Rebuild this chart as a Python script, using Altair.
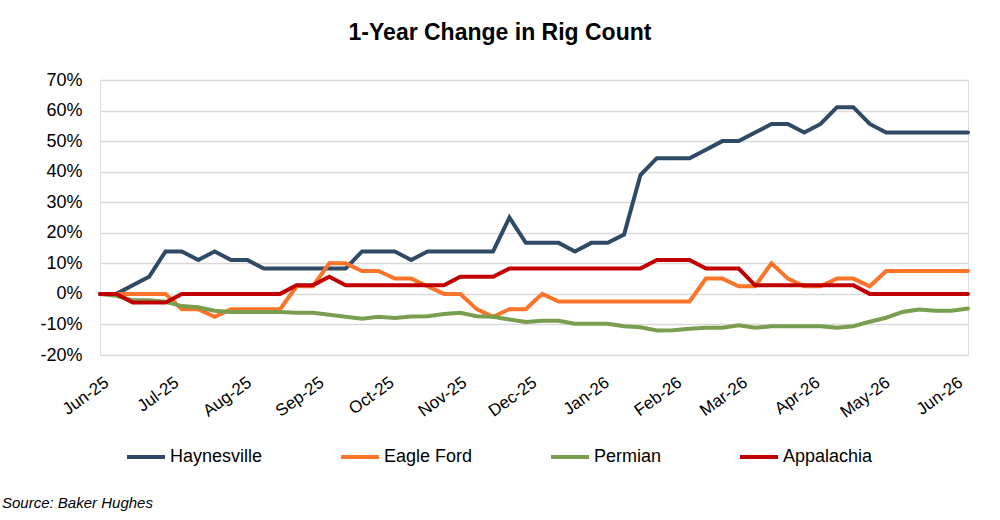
import altair as alt
import pandas as pd

# ---- data ----
series_names = ["Haynesville", "Eagle Ford", "Permian", "Appalachia"]
series_colors = ["#2f4a66", "#fb7429", "#7a9e4f", "#c00000"]

start_date = "2025-05-30"  # weekly observations

haynesville = [0, 0, 2.8, 5.6, 13.9, 13.9, 11.1, 13.9, 11.1, 11.1,
               8.3, 8.3, 8.3, 8.3, 8.3, 8.3, 13.9, 13.9, 13.9, 11.1,
               13.9, 13.9, 13.9, 13.9, 13.9, 25.0, 16.7, 16.7, 16.7, 13.9,
               16.7, 16.7, 19.4, 38.9, 44.4, 44.4, 44.4, 47.2, 50.0, 50.0,
               52.8, 55.6, 55.6, 52.8, 55.6, 61.1, 61.1, 55.6, 52.8, 52.8,
               52.8, 52.8, 52.8, 52.8]
eagle_ford = [0, 0, 0, 0, 0, -5, -5, -7.5, -5, -5,
              -5, -5, 2.5, 2.5, 10, 10, 7.5, 7.5, 5, 5,
              2.5, 0, 0, -5, -7.5, -5, -5, 0, -2.5, -2.5,
              -2.5, -2.5, -2.5, -2.5, -2.5, -2.5, -2.5, 5, 5, 2.5,
              2.5, 10, 5, 2.5, 2.5, 5, 5, 2.5, 7.5, 7.5,
              7.5, 7.5, 7.5, 7.5]
permian = [0, -0.6, -2.1, -2.1, -2.6, -4.0, -4.4, -5.5, -5.9, -5.9,
           -5.9, -5.9, -6.2, -6.2, -6.8, -7.5, -8.1, -7.5, -7.9, -7.4,
           -7.3, -6.6, -6.2, -7.3, -7.5, -8.4, -9.2, -8.8, -8.8, -9.8,
           -9.8, -9.8, -10.6, -10.9, -12.0, -11.9, -11.4, -11.1, -11.1, -10.3,
           -11.1, -10.6, -10.6, -10.6, -10.6, -11.1, -10.6, -9.1, -7.8, -5.9,
           -5.1, -5.5, -5.5, -4.8]
appalachia = [0, 0, -2.8, -2.8, -2.8, 0, 0, 0, 0, 0,
              0, 0, 2.8, 2.8, 5.6, 2.8, 2.8, 2.8, 2.8, 2.8,
              2.8, 2.8, 5.6, 5.6, 5.6, 8.3, 8.3, 8.3, 8.3, 8.3,
              8.3, 8.3, 8.3, 8.3, 11.1, 11.1, 11.1, 8.3, 8.3, 8.3,
              2.8, 2.8, 2.8, 2.8, 2.8, 2.8, 2.8, 0, 0, 0,
              0, 0, 0, 0]

y_ticks = [-20, -10, 0, 10, 20, 30, 40, 50, 60, 70]
month_ticks = [(2025, m) for m in range(6, 13)] + [(2026, m) for m in range(1, 7)]

source_text = "Source: Baker Hughes"
title_text = "1-Year Change in Rig Count"

# ---- build table ----
dates = pd.date_range(start_date, periods=len(haynesville), freq="7D")
rows = []
for name, vals in zip(series_names, [haynesville, eagle_ford, permian, appalachia]):
    for d, v in zip(dates, vals):
        rows.append({"date": d.strftime("%Y-%m-%d"), "series": name, "value": v})
df = pd.DataFrame(rows)

FONT = "Liberation Sans"

x_enc = alt.X(
    "date:T",
    scale=alt.Scale(type="utc",
                    domain=[alt.DateTime(year=dates[0].year, month=dates[0].month, date=dates[0].day, utc=True),
                            alt.DateTime(year=dates[-1].year, month=dates[-1].month, date=dates[-1].day, utc=True)]),
    axis=alt.Axis(
        title=None,
        values=[alt.DateTime(year=y, month=m, date=1, utc=True) for y, m in month_ticks],
        labelExpr="utcFormat(datum.value, '%b-%y')",
        labelAngle=-36,
        labelAlign="right",
        labelBaseline="top",
        labelFontSize=17,
        labelFont=FONT,
        labelColor="#000000",
        labelPadding=19,
        labelOffset=-3,
        labelOverlap=False,
        labelFlush=False,
        domain=False,
        ticks=False,
        grid=False,
    ),
)

y_enc = alt.Y(
    "value:Q",
    scale=alt.Scale(domain=[-20, 70], nice=False, zero=False),
    axis=alt.Axis(
        title=None,
        values=y_ticks,
        labelExpr="datum.value + '%'",
        labelFontSize=18,
        labelFont=FONT,
        labelColor="#000000",
        labelPadding=18,
        domain=False,
        ticks=False,
        grid=True,
        gridColor="#d9d9d9",
        gridWidth=1.5,
    ),
)

lines = alt.Chart(df).mark_line(strokeWidth=4, strokeJoin="miter", strokeCap="round").encode(
    x=x_enc,
    y=y_enc,
    color=alt.Color(
        "series:N",
        scale=alt.Scale(domain=series_names, range=series_colors),
        sort=series_names,
        legend=alt.Legend(
            title=None,
            orient="none",
            direction="horizontal",
            legendX=25,
            legendY=356,
            symbolType="stroke",
            symbolSize=1444,
            symbolStrokeWidth=4,
            labelFontSize=18,
            labelFont=FONT,
            labelColor="#000000",
            labelOffset=3,
            columnPadding=70,
            padding=0,
        ),
    ),
    order=alt.Order("date:T"),
)

source = alt.Chart(pd.DataFrame({"t": [source_text]})).mark_text(
    align="left", baseline="middle", fontSize=15, fontStyle="italic", font=FONT, color="#000000"
).encode(x=alt.value(-98), y=alt.value(423), text="t:N")

chart = alt.layer(lines, source).properties(
    width=868,
    height=275,
    autosize=alt.AutoSizeParams(type="none"),
    padding={"left": 100, "top": 80, "right": 32, "bottom": 165},
    title=alt.TitleParams(title_text, fontSize=23, font=FONT, fontWeight="bold",
                          color="#000000", anchor="middle", dx=-34, offset=26),
).configure_view(stroke=None).configure(background="white")

chart.save("out.html", embed_options={"renderer": "svg", "actions": False})
